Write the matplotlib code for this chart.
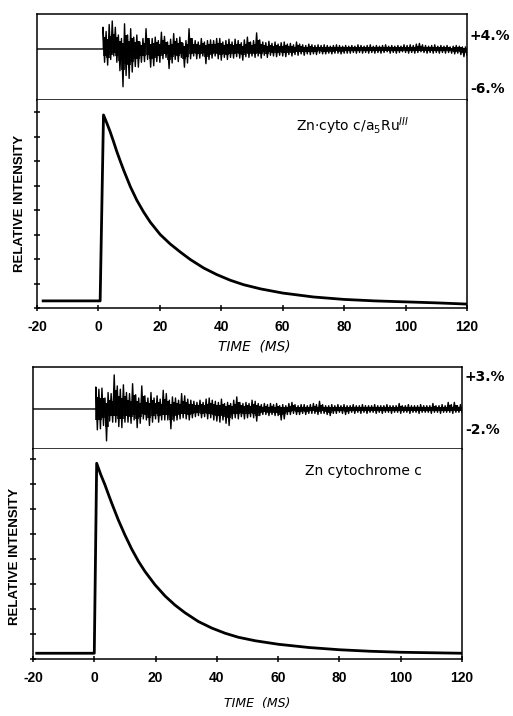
import matplotlib
matplotlib.use("Agg")
import matplotlib.pyplot as plt
import numpy as np

# ---- data ----
# Zn-cyto c/a5Ru(III): decay curve (time in ms, relative intensity)
decay1_t = [-18, 0.56, 1.65, 2.7, 3.8, 4.9, 6.0, 7.1, 8.2, 10.4, 12.5, 14.7, 16.9, 20.1, 23.4,
            26.7, 29.9, 34.3, 38.6, 43.0, 47.3, 52.8, 60, 70, 80, 90, 100, 110, 120]
decay1_y = [0.29, 0.29, 7.88, 7.56, 7.2, 6.8, 6.38, 6.0, 5.63, 4.95, 4.40, 3.92, 3.50, 3.0, 2.61,
            2.28, 1.98, 1.63, 1.36, 1.13, 0.95, 0.78, 0.61, 0.45, 0.35, 0.29, 0.25, 0.21, 0.16]

# Zn cytochrome c: decay curve
decay2_t = [-18.8, 0.0, 0.78, 2.1, 3.5, 4.6, 5.7, 7.85, 10.0, 12.2, 14.4, 16.55, 19.8, 23.1,
            26.3, 29.6, 33.95, 38.3, 42.7, 47.0, 52.5, 60, 70, 80, 90, 100, 110, 120]
decay2_y = [0.23, 0.23, 7.83, 7.38, 6.96, 6.59, 6.23, 5.56, 4.96, 4.40, 3.91, 3.50, 2.97, 2.52,
            2.16, 1.85, 1.50, 1.24, 1.03, 0.87, 0.73, 0.59, 0.46, 0.37, 0.31, 0.27, 0.25, 0.23]

# residuals (%), upper / lower excursion in each 1 ms bin
res1_start = 1.6
res1_t = list(range(2, 121))
res1_hi = [3.1, 2.5, 3.5, 4.0, 3.1, 2.0, 1.5, 3.6, 2.0, 2.9,
           1.7, 2.0, 1.0, 1.5, 2.9, 1.2, 1.5, 1.7, 1.2, 2.4,
           1.8, 1.0, 1.4, 2.2, 1.5, 1.7, 0.8, 1.2, 2.9, 1.3,
           1.2, 1.0, 1.5, 1.0, 1.2, 1.3, 1.2, 1.5, 1.5, 1.0,
           1.2, 1.4, 1.0, 1.4, 1.2, 0.9, 1.3, 1.7, 1.0, 1.2,
           2.3, 1.3, 1.0, 0.9, 1.1, 0.8, 1.0, 0.7, 0.9, 1.0,
           0.7, 0.8, 0.6, 1.0, 0.7, 0.6, 0.5, 0.7, 0.6, 0.5,
           0.6, 0.5, 0.6, 0.5, 0.4, 0.5, 0.6, 0.5, 0.4, 0.5,
           0.4, 0.5, 0.4, 0.6, 0.5, 0.4, 0.5, 0.6, 0.4, 0.5,
           0.4, 0.5, 0.6, 0.4, 0.5, 0.4, 0.5, 0.4, 0.6, 0.5,
           0.6, 0.5, 0.7, 0.8, 0.6, 0.5, 0.4, 0.5, 0.6, 0.4,
           0.5, 0.4, 0.5, 0.3, 0.4, 0.5, 0.4, 0.3, 0.3]
res1_lo = [-1.9, -2.3, -1.5, -1.0, -1.9, -3.1, -5.4, -3.8, -4.2, -3.3,
           -2.5, -2.6, -1.9, -1.8, -1.5, -2.6, -2.4, -1.8, -1.9, -1.4,
           -1.2, -2.8, -2.0, -1.5, -1.8, -1.2, -2.6, -2.0, -1.4, -1.0,
           -1.4, -1.3, -1.0, -2.1, -1.5, -1.3, -1.0, -1.4, -1.6, -1.2,
           -1.5, -1.2, -1.3, -1.1, -1.3, -1.6, -1.1, -1.2, -1.0, -1.2,
           -1.0, -1.3, -0.9, -1.2, -0.9, -1.0, -1.1, -0.9, -1.0, -1.1,
           -0.8, -1.0, -0.8, -0.9, -0.7, -0.9, -0.7, -0.8, -0.7, -0.8,
           -0.6, -0.7, -0.7, -0.6, -0.7, -0.6, -0.6, -0.7, -0.6, -0.6,
           -0.6, -0.5, -0.6, -0.5, -0.6, -0.5, -0.6, -0.5, -0.6, -0.5,
           -0.6, -0.5, -0.4, -0.6, -0.5, -0.6, -0.5, -0.4, -0.5, -0.6,
           -0.5, -0.6, -0.5, -0.4, -0.5, -0.6, -0.5, -0.6, -0.5, -0.6,
           -0.5, -0.6, -0.5, -0.6, -0.7, -0.6, -0.8, -1.1, -0.9]

res2_start = 0.8
res2_t = list(range(1, 121))
res2_hi = [2.0, 1.8, 1.9, 1.0, 1.5, 1.4, 3.1, 2.1, 1.8, 2.2,
           1.5, 1.4, 2.3, 1.3, 1.0, 2.1, 1.2, 1.0, 1.5, 1.0,
           1.2, 0.9, 1.7, 1.4, 0.8, 1.1, 1.0, 0.8, 1.4, 1.2,
           0.9, 0.8, 0.7, 0.6, 0.8, 0.6, 0.9, 1.0, 0.8, 0.7,
           0.6, 0.9, 0.5, 0.6, 0.5, 0.8, 1.1, 0.6, 0.5, 0.6,
           0.5, 0.8, 0.7, 0.5, 0.4, 0.5, 0.4, 0.5, 0.4, 0.5,
           0.3, 0.4, 0.3, 0.5, 0.6, 0.4, 0.3, 0.4, 0.4, 0.3,
           0.4, 0.5, 0.4, 0.7, 0.4, 0.3, 0.3, 0.4, 0.3, 0.4,
           0.3, 0.4, 0.3, 0.3, 0.4, 0.3, 0.3, 0.4, 0.3, 0.3,
           0.3, 0.4, 0.3, 0.3, 0.3, 0.4, 0.3, 0.3, 0.3, 0.5,
           0.3, 0.3, 0.4, 0.3, 0.3, 0.3, 0.4, 0.3, 0.3, 0.3,
           0.5, 0.3, 0.3, 0.4, 0.3, 0.6, 0.4, 0.6, 0.3, 0.4]
res2_lo = [-1.9, -1.8, -1.5, -2.9, -1.1, -1.2, -1.2, -1.6, -1.7, -1.2,
           -1.2, -1.3, -1.0, -1.7, -1.3, -0.9, -1.0, -1.5, -1.2, -0.9,
           -1.2, -1.0, -1.0, -1.0, -1.8, -1.1, -1.0, -0.9, -0.8, -0.9,
           -1.0, -0.8, -0.7, -0.6, -0.8, -0.7, -0.9, -0.8, -1.0, -1.1,
           -1.2, -1.0, -1.3, -1.5, -0.9, -0.8, -0.9, -0.7, -0.9, -0.8,
           -0.7, -0.8, -1.1, -0.6, -0.5, -0.5, -0.6, -0.5, -0.6, -0.6,
           -1.0, -0.9, -0.5, -0.5, -0.4, -0.5, -0.5, -0.4, -0.5, -0.4,
           -0.4, -0.4, -0.5, -0.4, -0.4, -0.5, -0.6, -0.4, -0.4, -0.3,
           -0.4, -0.5, -0.4, -0.3, -0.4, -0.3, -0.4, -0.3, -0.4, -0.3,
           -0.3, -0.4, -0.3, -0.4, -0.3, -0.3, -0.4, -0.3, -0.3, -0.4,
           -0.3, -0.3, -0.4, -0.3, -0.3, -0.4, -0.3, -0.3, -0.3, -0.4,
           -0.3, -0.3, -0.4, -0.3, -0.3, -0.3, -0.4, -0.3, -0.3, -0.3]

x_ticks = [-20, 0, 20, 40, 60, 80, 100, 120]
x_ticklabels = ["-20", "0", "20", "40", "60", "80", "100", "120"]

plt.rcParams["font.family"] = ["Liberation Sans", "DejaVu Sans"]


def zigzag(start, t, hi, lo):
    """flat zero line up to the flash, then alternate hi/lo in each bin"""
    xs = [-20, start]
    ys = [0, 0]
    for ti, h, l in zip(t, hi, lo):
        xs += [ti - 0.5, ti]
        ys += [h, l]
    return np.array(xs), np.array(ys)


def draw_residual(ax, start, t, hi, lo, ylim, tickpos, ticklabels):
    xs, ys = zigzag(start, t, hi, lo)
    ax.plot(xs, ys, color="black", lw=1.0)
    # solid core of the noise band
    ax.vlines(t, np.array(lo) * 0.55, np.array(hi) * 0.55, color="black", lw=2.6)
    ax.set_xlim(-20, 120)
    ax.set_ylim(*ylim)
    ax.set_xticks([])
    ax.yaxis.tick_right()
    ax.set_yticks(tickpos)
    ax.set_yticklabels(ticklabels, fontsize=10, fontweight="bold",
                       family=["DejaVu Sans"])
    ax.tick_params(axis="y", length=0, pad=2)
    for s in ax.spines.values():
        s.set_linewidth(1.1)


def draw_decay(ax, t, y, ymax, label, label_xy):
    ax.plot(t, y, color="black", lw=2.0, solid_joinstyle="round")
    ax.set_xlim(-20, 120)
    ax.set_ylim(0, ymax)
    ax.set_xticks(x_ticks)
    ax.set_xticklabels(x_ticklabels, fontsize=10, fontweight="bold")
    ax.set_yticks(range(0, 9))
    ax.set_yticklabels([])
    ax.tick_params(direction="inout", length=5, width=1.1, pad=6)
    ax.spines["top"].set_visible(False)
    for s in ax.spines.values():
        s.set_linewidth(1.1)
    ax.text(label_xy[0], label_xy[1], label, transform=ax.transAxes,
            fontsize=10, ha="left", va="center", family=["DejaVu Sans"])


fig = plt.figure(figsize=(5.13, 7.16), dpi=100)
W, H = 513.0, 716.0


def box(left, right, top, bottom):
    return [left / W, 1 - bottom / H, (right - left) / W, (bottom - top) / H]


ax_r1 = fig.add_axes(box(37, 467, 14, 100))
ax_d1 = fig.add_axes(box(37, 467, 100, 308))
ax_r2 = fig.add_axes(box(33, 462, 367, 449))
ax_d2 = fig.add_axes(box(33, 462, 449, 659))

draw_residual(ax_r1, res1_start, res1_t, res1_hi, res1_lo, (-7.29, 5.0),
              [2.0, -5.57], ["+4.%", "-6.%"])
draw_residual(ax_r2, res2_start, res2_t, res2_hi, res2_lo, (-3.64, 3.82),
              [3.09, -1.73], ["+3.%", "-2.%"])

draw_decay(ax_d1, decay1_t, decay1_y, 8.49,
           "Zn\u00b7cyto c/a$_5$Ru$^{III}$", (0.603, 0.875))
draw_decay(ax_d2, decay2_t, decay2_y, 8.4,
           "Zn cytochrome c", (0.635, 0.895))

fig.text(20 / W, 1 - 203 / H, "RELATIVE INTENSITY", rotation=90,
         ha="center", va="center", fontsize=9.5, fontweight="bold")
fig.text(15 / W, 1 - 556 / H, "RELATIVE INTENSITY", rotation=90,
         ha="center", va="center", fontsize=9.5, fontweight="bold")

fig.text(254 / W, 1 - 347 / H, "TIME  (MS)", ha="center", va="center",
         fontsize=9.8, fontstyle="italic", family=["DejaVu Sans"])
fig.text(257 / W, 1 - 704 / H, "TIME  (MS)", ha="center", va="center",
         fontsize=9.0, fontstyle="italic", family=["DejaVu Sans"])

fig.savefig("out.png", dpi=100)
